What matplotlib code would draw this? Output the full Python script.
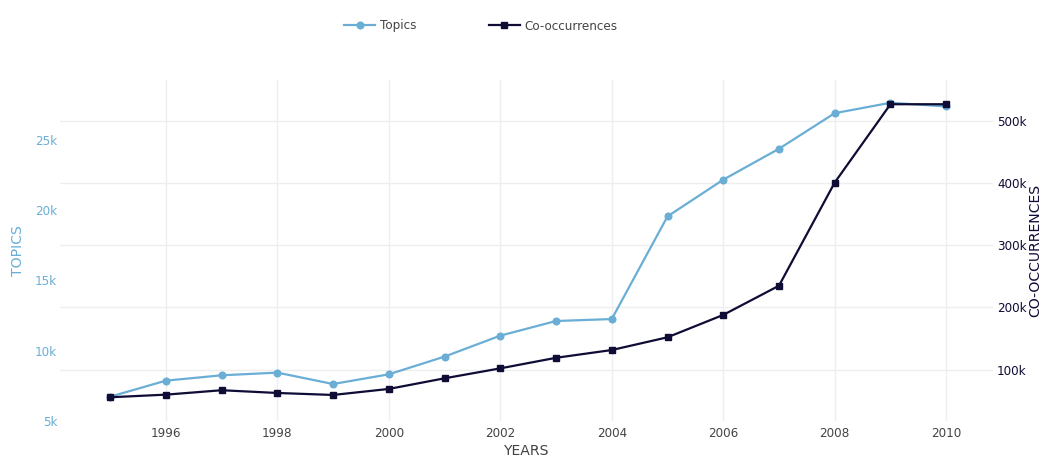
import matplotlib
matplotlib.use("Agg")
import matplotlib.pyplot as plt
from matplotlib.ticker import FuncFormatter, FixedLocator

years = [1995, 1996, 1997, 1998, 1999, 2000, 2001, 2002, 2003, 2004, 2005, 2006, 2007, 2008, 2009, 2010]
topics = [6730, 7870, 8250, 8440, 7630, 8320, 9580, 11070, 12110, 12250, 19550, 22160, 24360, 26890, 27630, 27370]
cooccurrences = [55500, 59700, 66800, 62400, 59200, 68900, 86000, 102000, 119000, 131500, 152000, 188000, 235000, 401000, 527000, 527000]

left_ticks = [5000, 10000, 15000, 20000, 25000]
right_ticks = [100000, 200000, 300000, 400000, 500000]
x_ticks = [1996, 1998, 2000, 2002, 2004, 2006, 2008, 2010]

c_topics = "#6aaed6"
c_co = "#0f0c35"
c_text = "#444444"
c_grid = "#eeeeee"

plt.rcParams['font.family'] = ['DejaVu Sans']

W, H = 1045, 461
fig = plt.figure(figsize=(W / 100, H / 100), dpi=100, facecolor='white')
x0, x1, y0, y1 = 60, 993, 80, 421
pos = [x0 / W, 1 - y1 / H, (x1 - x0) / W, (y1 - y0) / H]

xlim = (1994.10, 2010.84)
ylim_left = (5000, 29250)
ylim_right = (17300, 566000)

# grid layer (bottom)
axg = fig.add_axes(pos, zorder=0)
axg.set_xlim(*xlim)
axg.set_ylim(*ylim_right)
axg.xaxis.set_major_locator(FixedLocator(x_ticks))
axg.yaxis.set_major_locator(FixedLocator(right_ticks))
axg.grid(True, color=c_grid, lw=1)
axg.tick_params(length=0, labelleft=False, labelbottom=False)
for s in axg.spines.values():
    s.set_visible(False)

ax = fig.add_axes(pos, zorder=1)
ax.patch.set_visible(False)
ax2 = ax.twinx()

fs = 8.64       # 12 px
fs_title = 10.08  # 14 px

ax.plot(years, topics, color=c_topics, lw=1.6, marker='o', ms=4.8, label='Topics', zorder=3)
ax2.plot(years, cooccurrences, color=c_co, lw=1.6, marker='s', ms=4.3, label='Co-occurrences', zorder=3)

ax.set_xlim(*xlim)
ax.set_ylim(*ylim_left)
ax2.set_ylim(*ylim_right)

ax.xaxis.set_major_locator(FixedLocator(x_ticks))
ax.yaxis.set_major_locator(FixedLocator(left_ticks))
ax2.yaxis.set_major_locator(FixedLocator(right_ticks))
kfmt = FuncFormatter(lambda v, p: f"{int(round(v / 1000))}k")
ax.yaxis.set_major_formatter(kfmt)
ax2.yaxis.set_major_formatter(kfmt)

for a in (ax, ax2):
    a.grid(False)
    for s in a.spines.values():
        s.set_visible(False)

ax.tick_params(axis='x', length=0, pad=4, labelsize=fs, labelcolor=c_text)
ax.tick_params(axis='y', length=0, pad=2, labelsize=fs, labelcolor=c_topics)
ax2.tick_params(axis='y', length=0, pad=3, labelsize=fs, labelcolor=c_co)

ax.set_xlabel('YEARS', fontsize=fs_title, color=c_text, labelpad=3.5)
ax.set_ylabel('TOPICS', fontsize=fs_title, color=c_topics, labelpad=7)
ax2.set_ylabel('CO-OCCURRENCES', fontsize=fs_title, color=c_co, labelpad=1)

h1, l1 = ax.get_legend_handles_labels()
h2, l2 = ax2.get_legend_handles_labels()
fig.legend(h1 + h2, l1 + l2, loc='center', bbox_to_anchor=(481 / W, 1 - 26 / H),
           ncol=2, frameon=False, fontsize=fs, labelcolor=c_text, columnspacing=6.0,
           handlelength=2.6, handletextpad=0.4)

fig.savefig('out.png', dpi=100, facecolor='white')
